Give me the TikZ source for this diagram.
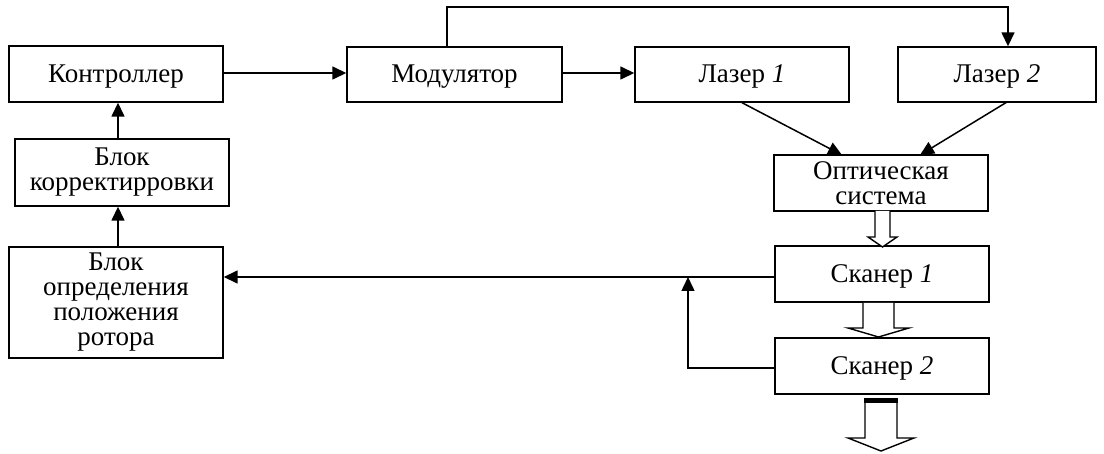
\documentclass[tikz,border=0pt]{standalone}
\usepackage{fontspec}
\setmainfont{Liberation Serif}
\usetikzlibrary{arrows.meta}
\tikzset{
  blk/.style={draw, line width=1.4pt, rectangle, inner sep=0pt, align=center,
              font=\fontsize{27}{25}\selectfont},
  oneline/.style={text height=19pt, text depth=2pt},
  arr/.style={line width=1.5pt, -{Triangle[length=14pt,width=13pt]}},
  hollow/.style={draw, line width=1.4pt, fill=white, line join=miter},
}
\begin{document}
\begin{tikzpicture}[x=1pt,y=-1pt]
\useasboundingbox (0,0) rectangle (1104,454);

% blocks
\node[blk, oneline, minimum width=214pt, minimum height=56pt] (ctrl) at (116,74) {Контроллер};
\node[blk, minimum width=214pt, minimum height=67pt] (corr) at (122,172.5) {Блок\\корректирровки};
\node[blk, minimum width=214pt, minimum height=111pt] (rotor) at (116,302.5) {Блок\\определения\\положения\\ротора};
\node[blk, oneline, minimum width=215pt, minimum height=55pt] (mod) at (454.5,74.5) {Модулятор};
\node[blk, oneline, minimum width=214pt, minimum height=55pt] (las1) at (742,74.5) {Лазер \textit{1}};
\node[blk, oneline, minimum width=198pt, minimum height=55pt] (las2) at (997,74.5) {Лазер \textit{2}};
\node[blk, minimum width=214pt, minimum height=56pt] (opt) at (881,183) {Оптическая\\система};
\node[blk, oneline, minimum width=214pt, minimum height=56pt] (sc1) at (882,274) {Сканер \textit{1}};
\node[blk, oneline, minimum width=214pt, minimum height=56pt] (sc2) at (882,366) {Сканер \textit{2}};

% routing points
\coordinate (tl) at (447,7);
\coordinate (tr) at (1008,7);
\coordinate (o1) at (842,155);
\coordinate (o2) at (920,155);
\coordinate (l2) at (1007,102);
\coordinate (lv) at (118,0);
\coordinate (fb) at (688,277);
\coordinate (s1) at (775,277);
\coordinate (s2) at (775,368);

% signal flow
\draw[arr] (ctrl.east |- 0,73) -- (mod.west |- 0,73);
\draw[arr] (mod.east |- 0,73) -- (las1.west |- 0,73);
\draw[arr] (tl |- mod.north) -- (tl) -- (tr) -- (tr |- las2.north);
\draw[arr] (las1.south) -- (o1);
\draw[arr] (l2) -- (o2);
\draw[arr] (lv |- corr.north) -- (lv |- ctrl.south);
\draw[arr] (lv |- rotor.north) -- (lv |- corr.south);
\draw[arr] (s1) -- (rotor.east |- s1);
\draw[arr] (s2) -| (fb);

% beam arrows
\draw[hollow] (875,211) -- (875,237) -- (868,237) -- (882.5,247) -- (897,237) -- (890,237) -- (890,211);
\draw[hollow] (863,303) -- (863,328) -- (848,328) -- (878.5,337) -- (909,328) -- (894,328) -- (894,303);
\draw[hollow] (865,400) -- (865,438) -- (848,438) -- (881,451) -- (914,438) -- (897,438) -- (897,400);
\draw[line width=5pt] (864.3,400.5) -- (897.7,400.5);
\end{tikzpicture}
\end{document}
